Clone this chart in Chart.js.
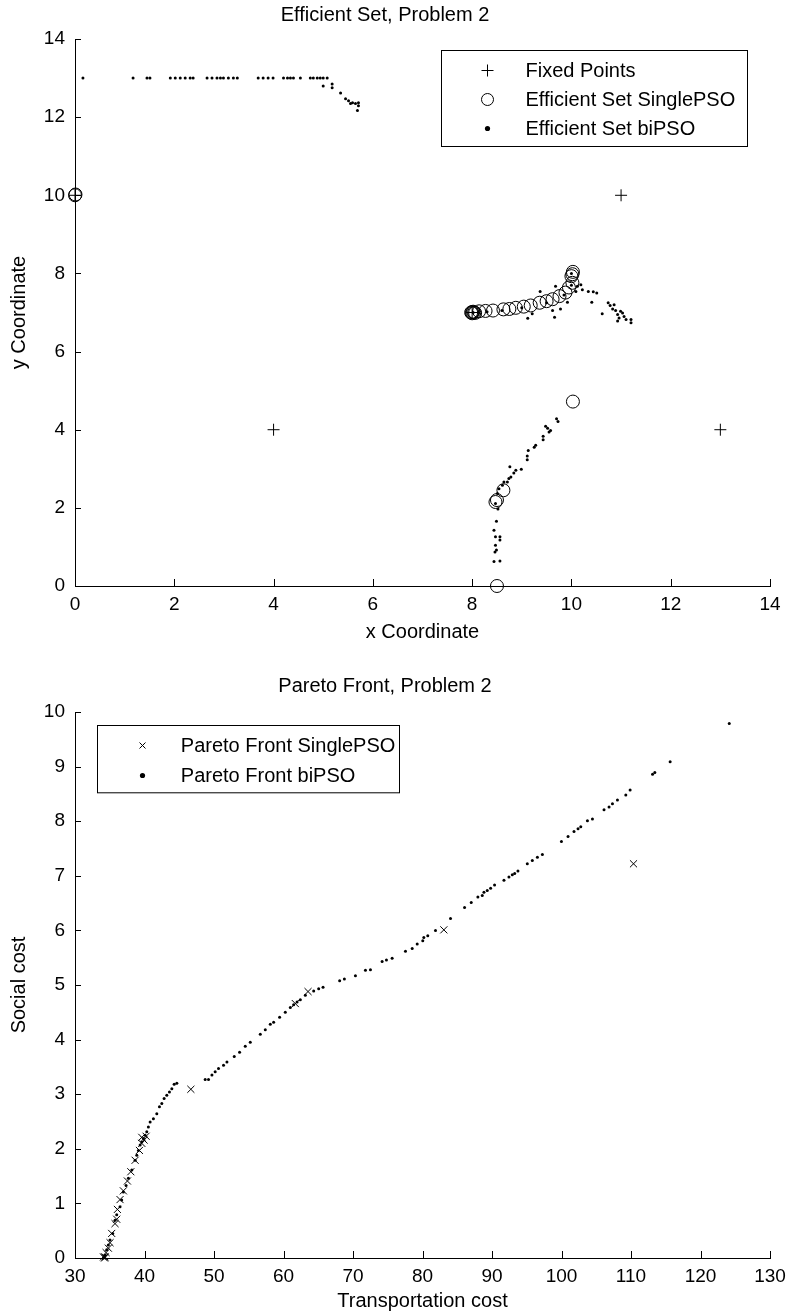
<!DOCTYPE html>
<html>
<head>
<meta charset="utf-8">
<title>Efficient Set and Pareto Front, Problem 2</title>
<script src="https://cdn.jsdelivr.net/npm/chart.js@4.4.0/dist/chart.umd.min.js"></script>
<style>
  html, body { margin: 0; padding: 0; background: #fff; }
  #wrap { width: 789px; height: 1316px; }
  canvas { display: block; }
</style>
</head>
<body>
<div id="wrap">
  <canvas id="setChart" width="789" height="658"></canvas>
  <canvas id="frontChart" width="789" height="658"></canvas>
</div>
<script>
// ---- Efficient Set, Problem 2 ----
const fixedX = [0, 4, 8, 11, 13];
const fixedY = [10, 4, 7, 10, 4];

const singleX = [0, 0.01, 7.98, 8.0, 8.02, 8.04, 8.06, 8.0,
  8.14, 8.27, 8.42, 8.63, 8.75, 8.88, 9.04, 9.18, 9.36, 9.5, 9.62, 9.76, 9.88, 9.95, 10.02, 10.0, 10.02, 10.03,
  10.03, 8.47, 8.5, 8.63, 8.5];
const singleY = [10, 10.02, 7.0, 6.98, 7.02, 7.0, 6.99, 7.01,
  7.03, 7.04, 7.05, 7.08, 7.09, 7.12, 7.15, 7.18, 7.25, 7.29, 7.34, 7.42, 7.51, 7.64, 7.76, 7.93, 7.98, 8.04,
  4.72, 2.15, 2.2, 2.45, 0.0];

const biX = [
  // top row
  0.16, 1.17, 1.45, 1.51, 1.92, 2.02, 2.12, 2.22, 2.32, 2.38, 2.66, 2.76, 2.86, 2.93, 2.99, 3.09, 3.19, 3.27,
  3.69, 3.79, 3.89, 3.99, 4.20, 4.28, 4.34, 4.40, 4.54, 4.74, 4.80, 4.88, 4.94, 5.00, 5.08,
  5.0, 5.18, 5.18, 5.35, 5.45, 5.51, 5.59, 5.65, 5.55, 5.71, 5.71, 5.69,
  // middle cluster
  9.37, 9.68, 9.92, 9.62, 9.78, 9.66, 9.12, 9.21, 10.19, 10.22, 10.34, 10.44, 10.51, 10.41, 10.62, 10.74,
  10.78, 10.86, 10.83, 10.89, 10.99, 10.93, 10.96, 11.03, 11.06, 11.10, 11.20, 11.20, 10.93, 10.09, 10.12,
  8.02, 8.3, 8.6, 9.0, 9.5, 9.85, 10.0, 10.0,
  // lower branch
  9.70, 9.73, 9.48, 9.52, 9.58, 9.55, 9.43, 9.43, 9.28, 9.25, 9.13, 9.11, 9.11, 8.99, 8.88, 8.84, 8.76, 8.78,
  8.74, 8.71, 8.64, 8.61, 8.54, 8.51, 8.47, 8.52, 8.49, 8.44, 8.47, 8.56, 8.56, 8.47, 8.49, 8.46, 8.44, 8.56
];
const biY = [
  13, 13, 13, 13, 13, 13, 13, 13, 13, 13, 13, 13, 13, 13, 13, 13, 13, 13,
  13, 13, 13, 13, 13, 13, 13, 13, 13, 13, 13, 13, 13, 13, 13,
  12.8, 12.85, 12.75, 12.62, 12.47, 12.42, 12.37, 12.35, 12.35, 12.37, 12.29, 12.17,
  7.54, 7.67, 7.26, 7.05, 7.09, 6.88, 6.85, 6.97, 7.71, 7.58, 7.54, 7.53, 7.50, 7.26, 6.97, 7.25,
  7.18, 7.20, 7.09, 7.05, 7.03, 6.95, 6.86, 6.99, 6.90, 6.82, 6.82, 6.74, 6.78, 7.54, 7.67,
  7.0, 7.02, 7.05, 7.12, 7.25, 7.45, 7.7, 8.0,
  4.28, 4.21, 4.09, 4.04, 3.98, 3.94, 3.83, 3.74, 3.60, 3.55, 3.47, 3.33, 3.23, 2.99, 2.96, 2.89, 3.05, 2.79,
  2.75, 2.66, 2.66, 2.58, 2.49, 2.37, 2.11, 1.97, 1.66, 1.43, 1.26, 1.26, 1.18, 1.04, 0.92, 0.87, 0.63, 0.64
];

// ---- Pareto Front, Problem 2 ----
const frontSingleX = [34.1, 34.25, 34.32, 34.47, 34.80, 35.04, 35.28, 35.76, 36.0, 36.10, 36.48, 36.96, 37.54,
  38.03, 38.65, 39.27, 39.61, 39.94, 40.23, 39.61, 46.67, 61.70, 63.53, 83.07, 110.36];
const frontSingleY = [0.02, 0.0, 0.02, 0.10, 0.18, 0.28, 0.45, 0.63, 0.71, 0.89, 1.07, 1.23, 1.41,
  1.58, 1.79, 1.97, 2.10, 2.16, 2.23, 2.21, 3.09, 4.66, 4.88, 6.01, 7.22];

const frontBiX = [34.08, 34.32, 34.56, 34.80, 35.04, 35.43, 35.76, 36.0, 36.48, 36.72, 36.96, 37.35, 37.68, 38.17,
  38.65, 38.89, 39.12, 39.37, 39.61, 39.84, 40.09, 40.33, 40.56, 40.81, 41.28, 41.77, 42.15, 42.49, 42.82,
  43.21, 43.59, 43.93, 44.27, 44.65,
  48.73, 49.21, 49.70, 50.17, 50.65, 51.37, 51.86, 52.91, 53.68, 54.50, 55.22, 56.66, 57.38, 58.10, 58.58,
  59.44, 60.26, 60.98, 61.46, 61.95, 62.42, 63.14, 64.34, 65.06, 65.69, 68.08, 68.76, 70.35, 71.79, 72.51,
  74.19, 74.81, 75.63, 77.55, 78.52, 79.24, 80.04, 80.19, 80.76, 81.87, 84.03, 86.05, 87.01, 87.97, 88.60,
  88.84, 89.32, 89.80, 90.37, 91.72, 92.44, 92.92, 93.26, 93.73, 95.08, 95.80, 96.53, 97.25, 99.99, 100.94,
  101.80, 102.38, 102.77, 103.73, 104.45, 106.12, 106.84, 107.33, 108.05, 109.25, 109.87, 113.10, 113.43,
  115.63, 124.14];
const frontBiY = [0.0, 0.05, 0.15, 0.24, 0.33, 0.45, 0.69, 0.79, 0.94, 1.06, 1.21, 1.33, 1.46, 1.61,
  1.79, 1.88, 1.97, 2.07, 2.13, 2.19, 2.25, 2.31, 2.40, 2.49, 2.55, 2.64, 2.77, 2.83, 2.92,
  2.98, 3.04, 3.10, 3.18, 3.20,
  3.27, 3.27, 3.35, 3.41, 3.47, 3.53, 3.59, 3.69, 3.77, 3.88, 3.95, 4.10, 4.18, 4.28, 4.32,
  4.41, 4.50, 4.59, 4.64, 4.69, 4.73, 4.81, 4.89, 4.93, 4.96, 5.08, 5.11, 5.17, 5.27, 5.28,
  5.43, 5.46, 5.49, 5.62, 5.67, 5.75, 5.81, 5.87, 5.90, 6.00, 6.22, 6.42, 6.51, 6.61, 6.64,
  6.70, 6.73, 6.77, 6.83, 6.92, 6.98, 7.02, 7.04, 7.09, 7.22, 7.28, 7.34, 7.39, 7.63, 7.72,
  7.81, 7.86, 7.90, 8.01, 8.04, 8.21, 8.26, 8.32, 8.39, 8.48, 8.57, 8.86, 8.89,
  9.09, 9.79];

function pts(xs, ys) {
  return xs.map((x, i) => ({ x: x, y: ys[i] }));
}

const FONT = '"Liberation Sans", Arial, Helvetica, sans-serif';
Chart.defaults.font.family = FONT;
Chart.defaults.color = '#000';

// axes of this kind of plot have their tick marks on the inside
const innerTicks = {
  id: 'innerTicks',
  afterDraw(chart) {
    const { ctx, chartArea, scales } = chart;
    ctx.save();
    ctx.strokeStyle = '#000';
    ctx.lineWidth = 1;
    ctx.beginPath();
    scales.x.ticks.forEach((t, i) => {
      const px = Math.round(scales.x.getPixelForTick(i)) + 0.5;
      ctx.moveTo(px, chartArea.bottom);
      ctx.lineTo(px, chartArea.bottom - 7);
    });
    scales.y.ticks.forEach((t, i) => {
      const py = Math.round(scales.y.getPixelForTick(i)) + 0.5;
      ctx.moveTo(chartArea.left, py);
      ctx.lineTo(chartArea.left + 6, py);
    });
    ctx.stroke();
    ctx.restore();
  }
};

function drawMarker(ctx, style, x, y) {
  ctx.beginPath();
  if (style === 'plus') {
    ctx.moveTo(x - 6, y); ctx.lineTo(x + 6, y);
    ctx.moveTo(x, y - 6); ctx.lineTo(x, y + 6);
    ctx.stroke();
  } else if (style === 'ring') {
    ctx.arc(x, y, 6, 0, Math.PI * 2);
    ctx.stroke();
  } else if (style === 'dot') {
    ctx.arc(x, y, 2.6, 0, Math.PI * 2);
    ctx.fill();
  } else if (style === 'x') {
    ctx.moveTo(x - 3, y - 3); ctx.lineTo(x + 3, y + 3);
    ctx.moveTo(x + 3, y - 3); ctx.lineTo(x - 3, y + 3);
    ctx.stroke();
  }
}

// legend box drawn inside the plot area
const boxLegend = {
  id: 'boxLegend',
  afterDraw(chart, args, opts) {
    const { ctx, chartArea } = chart;
    const x0 = Math.round(chartArea.left + opts.dx) + 0.5;
    const y0 = Math.round(chartArea.top + opts.dy) + 0.5;
    ctx.save();
    ctx.font = '20px ' + FONT;
    const tw = Math.max(...opts.items.map(it => ctx.measureText(it.text).width));
    const w = Math.round(opts.textX + tw + opts.padRight);
    const h = opts.padTop + opts.items.length * opts.rowH + opts.padBottom;
    ctx.fillStyle = '#fff';
    ctx.fillRect(x0, y0, w, h);
    ctx.strokeStyle = '#000';
    ctx.lineWidth = 1;
    ctx.strokeRect(x0, y0, w, h);
    ctx.fillStyle = '#000';
    ctx.textBaseline = 'middle';
    ctx.textAlign = 'left';
    opts.items.forEach((it, i) => {
      const cy = y0 + opts.padTop + opts.rowH * (i + 0.5);
      drawMarker(ctx, it.marker, x0 + opts.markerX, cy);
      ctx.fillText(it.text, x0 + opts.textX, cy + 1);
    });
    ctx.restore();
  }
};

function axis(min, max, step, title, isX, size, tickPad, titlePad) {
  return {
    type: 'linear',
    position: isX ? 'bottom' : 'left',
    min: min,
    max: max,
    grid: { display: false, drawTicks: false },
    border: { display: true, color: '#000', width: 1 },
    ticks: { stepSize: step, padding: tickPad, color: '#000', font: { size: 19 } },
    title: { display: true, text: title, color: '#000', font: { size: 20 }, padding: titlePad },
    afterFit(scale) {
      if (isX) {
        scale.height = size;
        scale.paddingLeft = 0;
        scale.paddingRight = 0;
      } else {
        scale.width = size;
      }
    }
  };
}

new Chart(document.getElementById('setChart'), {
  type: 'scatter',
  data: {
    datasets: [
      {
        label: 'Fixed Points', data: pts(fixedX, fixedY), order: 1, clip: false,
        pointStyle: 'cross', pointRadius: 6, borderColor: '#000', borderWidth: 1, backgroundColor: '#000'
      },
      {
        label: 'Efficient Set biPSO', data: pts(biX, biY), order: 2, clip: false,
        pointStyle: 'circle', pointRadius: 1.5, borderWidth: 0, backgroundColor: '#000'
      },
      {
        label: 'Efficient Set SinglePSO', data: pts(singleX, singleY), order: 3, clip: false,
        pointStyle: 'circle', pointRadius: 6.5, borderColor: '#000', borderWidth: 1, backgroundColor: 'rgba(0,0,0,0)'
      }
    ]
  },
  options: {
    responsive: false,
    animation: false,
    events: [],
    layout: { padding: { left: 0, right: 19, top: 0, bottom: 0 } },
    scales: {
      x: axis(0, 14, 2, 'x Coordinate', true, 72, 7, { top: 0, bottom: 14 }),
      y: axis(0, 14, 2, 'y Coordinate', false, 75, 10, { top: 7, bottom: 0 })
    },
    plugins: {
      legend: { display: false },
      tooltip: { enabled: false },
      title: {
        display: true, text: 'Efficient Set, Problem 2', color: '#000',
        font: { size: 20, weight: 'normal' }, padding: { top: 3, bottom: 12 }
      },
      boxLegend: {
        dx: 366, dy: 11, markerX: 46, textX: 84, padRight: 12, rowH: 29, padTop: 5.5, padBottom: 3.5,
        items: [
          { marker: 'plus', text: 'Fixed Points' },
          { marker: 'ring', text: 'Efficient Set SinglePSO' },
          { marker: 'dot', text: 'Efficient Set biPSO' }
        ]
      }
    }
  },
  plugins: [innerTicks, boxLegend]
});

new Chart(document.getElementById('frontChart'), {
  type: 'scatter',
  data: {
    datasets: [
      {
        label: 'Pareto Front SinglePSO', data: pts(frontSingleX, frontSingleY), order: 1, clip: false,
        pointStyle: 'crossRot', pointRadius: 5, borderColor: '#000', borderWidth: 1, backgroundColor: '#000'
      },
      {
        label: 'Pareto Front biPSO', data: pts(frontBiX, frontBiY), order: 2, clip: false,
        pointStyle: 'circle', pointRadius: 1.5, borderWidth: 0, backgroundColor: '#000'
      }
    ]
  },
  options: {
    responsive: false,
    animation: false,
    events: [],
    layout: { padding: { left: 0, right: 19, top: 0, bottom: 0 } },
    scales: {
      x: axis(30, 130, 10, 'Transportation cost', true, 58, 7, { top: 0, bottom: 2.5 }),
      y: axis(0, 10, 1, 'Social cost', false, 75, 10, { top: 7, bottom: 0 })
    },
    plugins: {
      legend: { display: false },
      tooltip: { enabled: false },
      title: {
        display: true, text: 'Pareto Front, Problem 2', color: '#000',
        font: { size: 20, weight: 'normal' }, padding: { top: 16, bottom: 14 }
      },
      boxLegend: {
        dx: 21.7, dy: 13.3, markerX: 45, textX: 83.3, padRight: 4, rowH: 30, padTop: 5, padBottom: 2.3,
        items: [
          { marker: 'x', text: 'Pareto Front SinglePSO' },
          { marker: 'dot', text: 'Pareto Front biPSO' }
        ]
      }
    }
  },
  plugins: [innerTicks, boxLegend]
});
</script>
</body>
</html>
